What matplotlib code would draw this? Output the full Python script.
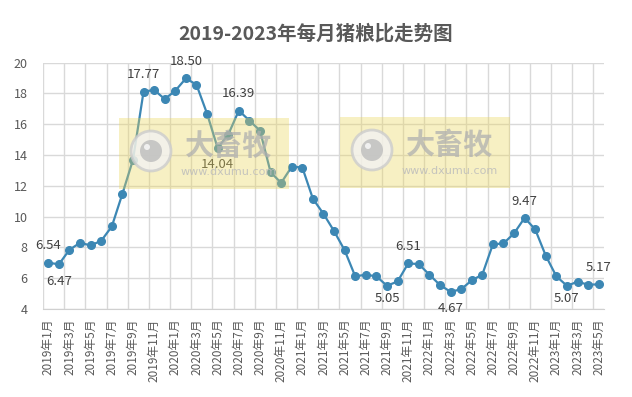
import numpy as np
import matplotlib
matplotlib.use("Agg")
import matplotlib.pyplot as plt
from matplotlib.patches import Rectangle, Circle

plt.rcParams["font.family"] = ["Noto Sans CJK SC", "DejaVu Sans"]

# data
years = [2019, 2020, 2021, 2022, 2023]
months = [f"{y}年{m}月" for y in years for m in range(1, 13)][:53]
ratio = [7.01, 6.90, 7.85, 8.30, 8.13, 8.43, 9.36, 11.48, 13.69, 18.12, 18.23, 17.64,
         18.18, 18.98, 18.57, 16.69, 14.46, 15.33, 16.89, 16.24, 15.59, 12.89, 12.19, 13.25,
         13.19, 11.16, 10.18, 9.06, 7.81, 6.12, 6.23, 6.12, 5.51, 5.79, 6.96, 6.92,
         6.23, 5.56, 5.12, 5.28, 5.86, 6.23, 8.20, 8.26, 8.91, 9.92, 9.17, 7.46,
         6.12, 5.51, 5.77, 5.58, 5.60]
label_idx = [0, 1, 9, 13, 16, 18, 32, 34, 38, 45, 49, 52]
label_val = [6.54, 6.47, 17.77, 18.50, 14.04, 16.39, 5.05, 6.51, 4.67, 9.47, 5.07, 5.17]
label_side = ["up", "down", "up", "up", "down", "up", "down", "up", "down", "up", "down", "up"]

W, H = 632, 397
fig = plt.figure(figsize=(W / 100, H / 100), dpi=100)
ax = fig.add_axes([43 / W, (H - 309) / H, (604 - 43) / W, (309 - 62.7) / H])

x = np.arange(len(ratio))
ax.plot(x, ratio, color="#3c87b4", linewidth=1.6, marker="o", markersize=5.5, zorder=3)

for i, v, side in zip(label_idx, label_val, label_side):
    dy = 12 if side == "up" else (-9 if v in (5.05, 5.07) else -12)
    ax.annotate(f"{v:.2f}", (i, ratio[i]), xytext=(0, dy), textcoords="offset points",
                ha="center", va="center", fontsize=9.5, color="#404040")

ax.set_xlim(-0.5, 52.5)
ax.set_ylim(4, 20)
ax.set_yticks(range(4, 21, 2))
ax.set_xticks(x[::2])
ax.set_xticklabels(months[::2], rotation=90, fontsize=8.5, color="#595959")
ax.set_xticks(np.arange(-0.5, 52, 2), minor=True)
ax.tick_params(axis="both", which="both", length=0)
ax.tick_params(axis="x", pad=7)
ax.tick_params(axis="y", pad=11, labelsize=9, labelcolor="#595959")
ax.grid(axis="y", color="#d9d9d9", linewidth=1)
ax.grid(axis="x", which="minor", color="#d9d9d9", linewidth=1)
for s in ["top", "right", "left"]:
    ax.spines[s].set_visible(False)
ax.spines["bottom"].set_color("#d0d0d0")

fig.text(316 / W, 1 - 34 / H, "2019-2023年每月猪粮比走势图", ha="center", va="center",
         fontsize=14, fontweight="bold", color="#595959")

# watermark overlay, drawn in pixel coordinates
ov = fig.add_axes([0, 0, 1, 1], zorder=5)
ov.set_xlim(0, W)
ov.set_ylim(H, 0)
ov.axis("off")
ov.patch.set_alpha(0)
for left, top in [(119, 118), (340, 117)]:
    ov.add_patch(Rectangle((left, top), 170, 71, facecolor="#ebd65a", alpha=0.36,
                           edgecolor="none"))
    cx, cy = left + 32, top + 33
    ov.add_patch(Circle((cx, cy), 20, facecolor="#f2f2f2", edgecolor="#cccccc",
                        linewidth=2, alpha=0.8))
    ov.add_patch(Circle((cx, cy), 11, facecolor="#bdbdbd", edgecolor="none", alpha=0.8))
    ov.add_patch(Circle((cx - 4, cy - 4), 3, facecolor="#f5f5f5", edgecolor="none", alpha=0.9))
    ov.text(left + 110, top + 28, "大畜牧", ha="center", va="center", fontsize=21,
            fontweight="bold", color="#b0b0b0", alpha=0.75)
    ov.text(left + 110, top + 54, "www.dxumu.com", ha="center", va="center", fontsize=8,
            color="#bcbcbc", alpha=0.85, family="DejaVu Sans")

fig.savefig("out.png", dpi=100)
